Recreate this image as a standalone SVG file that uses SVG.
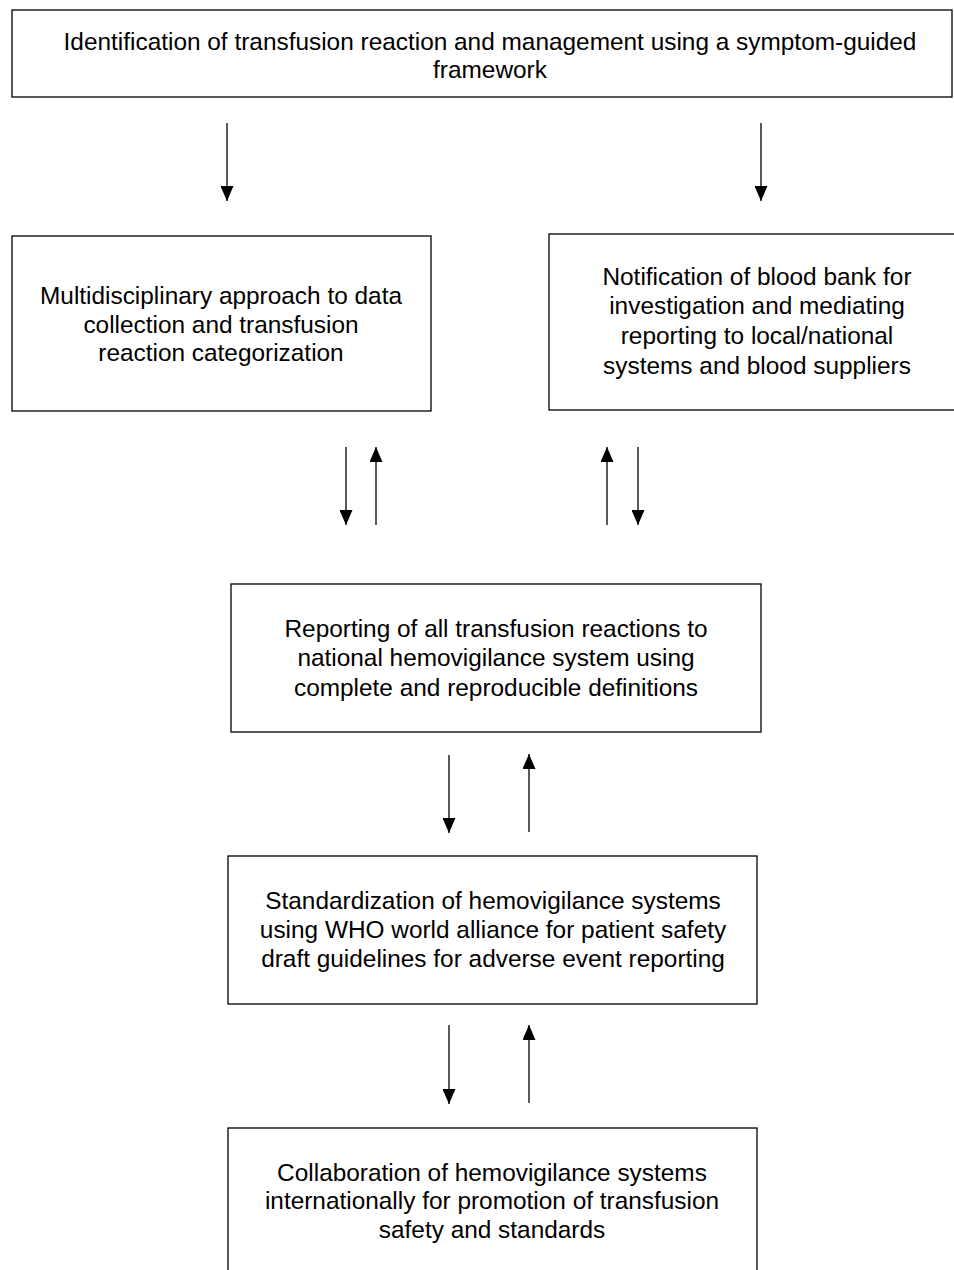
<svg xmlns="http://www.w3.org/2000/svg" width="954" height="1270" viewBox="0 0 954 1270">
<style>
.box{fill:#fff;stroke:#000;stroke-width:1.3}
.t{font-family:"Liberation Sans",Arial,sans-serif;font-size:24.4px;fill:#000;text-anchor:middle}
.c{stroke:#000;stroke-width:1.3;fill:none;marker-end:url(#ah)}
</style>
<defs>
<marker id="ah" viewBox="0 0 15 13" refX="15" refY="6.5" markerWidth="15" markerHeight="13" markerUnits="userSpaceOnUse" orient="auto">
<path d="M0,0 L15,6.5 L0,13 Z" fill="#000"/>
</marker>
</defs>
<rect width="954" height="1270" fill="#fff"/>
<g id="n1">
<rect class="box" x="12" y="10" width="940" height="87"/>
<text class="t" x="490" y="50">Identification of transfusion reaction and management using a symptom-guided</text>
<text class="t" x="490" y="78">framework</text>
</g>
<g id="n2">
<rect class="box" x="12" y="236" width="419" height="175"/>
<text class="t" x="221" y="304">Multidisciplinary approach to data</text>
<text class="t" x="221" y="333">collection and transfusion</text>
<text class="t" x="221" y="361">reaction categorization</text>
</g>
<g id="n3">
<rect class="box" x="549" y="234" width="410" height="176"/>
<text class="t" x="757" y="285">Notification of blood bank for</text>
<text class="t" x="757" y="314">investigation and mediating</text>
<text class="t" x="757" y="344">reporting to local/national</text>
<text class="t" x="757" y="374">systems and blood suppliers</text>
</g>
<g id="n4">
<rect class="box" x="231" y="584" width="530" height="148"/>
<text class="t" x="496" y="637">Reporting of all transfusion reactions to</text>
<text class="t" x="496" y="666">national hemovigilance system using</text>
<text class="t" x="496" y="696">complete and reproducible definitions</text>
</g>
<g id="n5">
<rect class="box" x="228" y="856" width="529" height="148"/>
<text class="t" x="493" y="909">Standardization of hemovigilance systems</text>
<text class="t" x="493" y="938">using WHO world alliance for patient safety</text>
<text class="t" x="493" y="967">draft guidelines for adverse event reporting</text>
</g>
<g id="n6">
<rect class="box" x="228" y="1128" width="529" height="160"/>
<text class="t" x="492" y="1181">Collaboration of hemovigilance systems</text>
<text class="t" x="492" y="1209">internationally for promotion of transfusion</text>
<text class="t" x="492" y="1238">safety and standards</text>
</g>
<g id="connectors">
<path class="c" d="M227,123 V201"/>
<path class="c" d="M761,123 V201"/>
<path class="c" d="M346,447 V525"/>
<path class="c" d="M376,525 V447"/>
<path class="c" d="M607,525 V447"/>
<path class="c" d="M638,447 V525"/>
<path class="c" d="M449,755 V833"/>
<path class="c" d="M529,832 V754"/>
<path class="c" d="M449,1025 V1104"/>
<path class="c" d="M529,1103 V1025"/>
</g>
</svg>
